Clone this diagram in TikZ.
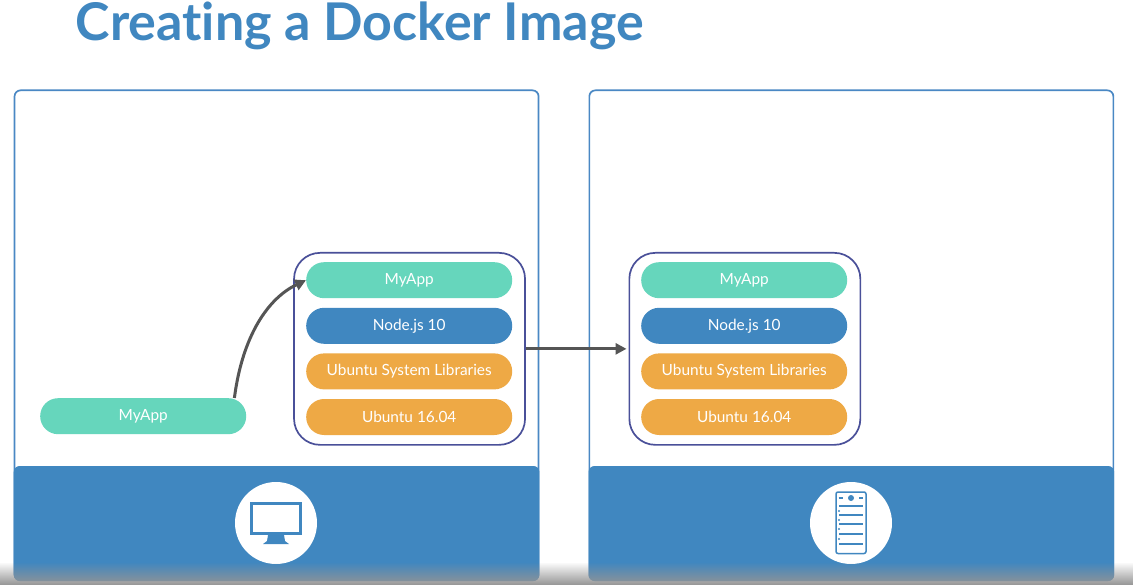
\documentclass[tikz,border=0pt]{standalone}
\usepackage{fontspec}
\setmainfont[Ligatures=NoCommon]{Lato}
\usetikzlibrary{positioning, arrows.meta, fadings}
\definecolor{BrandBlue}{HTML}{4087C0}
\definecolor{AppTeal}{HTML}{66D6BC}
\definecolor{OsOrange}{HTML}{EEA945}
\definecolor{PanelLine}{HTML}{4A88C4}
\definecolor{GroupLine}{HTML}{4A5099}
\definecolor{ArrowGray}{HTML}{555555}
\tikzset{
  panelbox/.style={rectangle, rounded corners=6pt, draw=PanelLine, line width=1.7pt, fill=white, minimum width=524pt, minimum height=490pt, inner sep=0pt},
  footerbox/.style={rectangle, rounded corners=6pt, fill=BrandBlue, minimum width=525.7pt, minimum height=115pt, inner sep=0pt},
  groupbox/.style={rectangle, rounded corners=26pt, draw=GroupLine, line width=1.7pt, fill=white, minimum width=231pt, minimum height=192pt, inner sep=0pt},
  pillbox/.style={rectangle, rounded corners=17.9pt, minimum width=206pt, minimum height=36pt, inner sep=0pt, text=white, font=\fontsize{15.4}{18}\selectfont},
  apppill/.style={pillbox, fill=AppTeal},
  nodepill/.style={pillbox, fill=BrandBlue},
  ospill/.style={pillbox, fill=OsOrange},
  iconcircle/.style={circle, fill=white, minimum size=82pt, inner sep=0pt},
  arrow/.style={-{Triangle[length=11pt,width=11pt]}, line width=3pt, ArrowGray},
  iconline/.style={BrandBlue, line width=1.5pt}
}
\begin{document}
\begin{tikzpicture}[x=1pt, y=-1pt]
  \useasboundingbox (0,0) rectangle (1135,585);
  \fill[white] (0,0) rectangle (1135,585);
  \node[anchor=base west, text=BrandBlue, font=\fontsize{52}{56}\selectfont\bfseries, inner sep=0pt] (title) at (75.5,41) {Creating a Docker Image};

  % panels
  \node[panelbox, anchor=north west] (devpanel) at (13.7,89.5) {};
  \node[panelbox, anchor=north west] (prodpanel) at (588.5,89.5) {};
  \node[footerbox, anchor=south] (devfooter) at (devpanel.south) {};
  \node[footerbox, anchor=south] (prodfooter) at (prodpanel.south) {};

  % image on the left
  \node[groupbox, anchor=north west] (devgroup) at (293.2,252) {};
  \node[apppill, anchor=north west] (devapp) at (306,262) {MyApp};
  \node[nodepill, below=9.2pt of devapp] (devnode) {Node.js 10};
  \node[ospill, below=9.2pt of devnode] (devlibs) {Ubuntu System Libraries};
  \node[ospill, below=9.2pt of devlibs] (devos) {Ubuntu 16.04};
  \node[apppill, anchor=north west] (srcapp) at (40,398) {MyApp};

  % image on the right
  \node[groupbox, anchor=north west] (prodgroup) at (628.5,252) {};
  \node[apppill, anchor=north west] (prodapp) at (641,262) {MyApp};
  \node[nodepill, below=9.2pt of prodapp] (prodnode) {Node.js 10};
  \node[ospill, below=9.2pt of prodnode] (prodlibs) {Ubuntu System Libraries};
  \node[ospill, below=9.2pt of prodlibs] (prodos) {Ubuntu 16.04};

  \draw[arrow] ([xshift=-12pt]srcapp.north east) .. controls +(8,-62) and +(-38,18) .. (devapp.west);
  \draw[arrow, shorten >=2pt] (devgroup.east) -- (prodgroup.west);

  % monitor icon
  \node[iconcircle] (devicon) at (276,523) {};
  \draw[BrandBlue, line width=3pt] (251.5,503.5) rectangle (300.5,533.5);
  \fill[BrandBlue] (268,535) -- (284,535) -- (285,541) -- (289,544) -- (263,544) -- (267,541) -- cycle;

  % server icon
  \node[iconcircle] (prodicon) at (851,523) {};
  \draw[iconline, rounded corners=2pt] (836,492) rectangle (866,553.5);
  \fill[BrandBlue] (851,498) circle (3pt);
  \draw[BrandBlue, line width=2pt] (838.5,498) -- (842.5,498) (859,498) -- (863,498);
  \foreach \ypos in {506,515,524,534,544}
    \draw[iconline] (839,\ypos) -- (863,\ypos);
  \foreach \ypos in {511,520,529,539}
    \fill[BrandBlue] (839,\ypos) circle (1.2pt);

  % video shadow along the bottom
  \fill[black!42, path fading=north] (0,562) rectangle (1135,585);
\end{tikzpicture}
\end{document}
